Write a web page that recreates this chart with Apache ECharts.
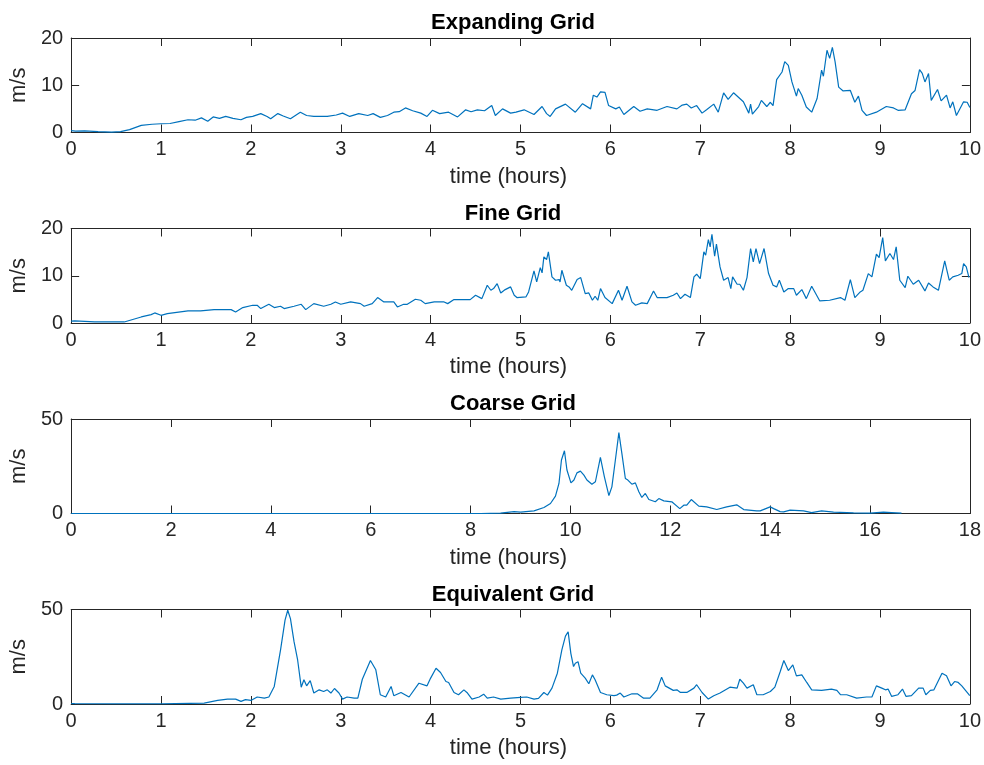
<!DOCTYPE html>
<html>
<head>
<meta charset="utf-8">
<script src="https://cdn.jsdelivr.net/npm/echarts@6/dist/echarts.min.js"></script>
<style>
  html, body { margin: 0; padding: 0; background: #fff; }
  #chart { width: 984px; height: 765px; }
</style>
</head>
<body>
<div id="chart"></div>
<script>
// [hours, m/s]
const expanding = [[0,0.4],[0.05,0.3],[0.15,0.35],[0.3,0.2],[0.45,0.1],[0.55,0.2],[0.65,0.6],[0.78,1.5],[0.9,1.75],[1.0,1.85],
  [1.1,1.9],[1.2,2.3],[1.3,2.7],[1.38,2.6],[1.45,3.1],[1.52,2.4],[1.58,3.3],[1.65,3.0],[1.72,3.4],[1.8,3.0],[1.89,2.7],[1.95,3.2],
  [2.02,3.4],[2.11,4.0],[2.18,3.4],[2.22,2.9],[2.3,4.0],[2.36,3.5],[2.44,2.9],[2.55,4.3],[2.62,3.6],[2.7,3.4],[2.85,3.4],[2.95,3.7],
  [3.02,4.1],[3.1,3.4],[3.2,4.0],[3.3,3.6],[3.36,4.0],[3.44,3.2],[3.52,3.6],[3.59,4.3],[3.65,4.4],[3.72,5.2],[3.8,4.6],[3.89,4.1],
  [3.96,3.4],[4.02,4.7],[4.1,4.0],[4.2,4.3],[4.3,3.3],[4.39,4.8],[4.45,4.4],[4.52,4.8],[4.6,4.6],[4.68,5.7],[4.72,3.6],[4.8,5.0],
  [4.89,4.1],[4.95,4.3],[5.04,4.8],[5.15,3.8],[5.24,5.5],[5.29,4.0],[5.33,3.4],[5.39,5.0],[5.5,6.0],[5.61,4.3],[5.69,6.1],[5.78,5.0],
  [5.81,7.9],[5.85,7.5],[5.89,8.6],[5.94,8.5],[5.98,5.7],[6.06,5.0],[6.1,5.4],[6.15,3.8],[6.26,5.5],[6.33,4.5],[6.41,5.0],[6.52,4.7],
  [6.63,5.5],[6.74,5.0],[6.8,5.8],[6.85,6.0],[6.9,5.2],[6.96,5.7],[7.02,4.1],[7.07,4.8],[7.15,6.0],[7.2,4.3],[7.26,8.4],[7.31,7.0],
  [7.37,8.4],[7.48,6.5],[7.54,4.1],[7.56,6.0],[7.58,3.9],[7.65,5.5],[7.68,6.8],[7.74,5.5],[7.78,6.4],[7.81,5.7],[7.85,11.2],[7.91,12.8],
  [7.94,15.0],[7.98,14.2],[8.02,10.7],[8.07,7.7],[8.09,9.3],[8.13,7.9],[8.18,5.4],[8.24,4.3],[8.3,7.2],[8.35,13.2],[8.37,11.9],[8.41,17.4],
  [8.44,15.7],[8.47,18.0],[8.5,15.0],[8.54,9.6],[8.59,8.8],[8.67,8.9],[8.72,6.4],[8.76,7.7],[8.8,4.7],[8.85,3.6],[8.96,4.3],[9.07,5.5],
  [9.15,5.2],[9.2,4.7],[9.28,4.8],[9.35,8.2],[9.39,8.9],[9.44,13.3],[9.47,12.5],[9.5,10.7],[9.54,12.5],[9.57,6.8],[9.64,9.1],[9.68,6.7],
  [9.74,7.9],[9.78,5.2],[9.81,6.5],[9.85,3.6],[9.93,6.5],[9.97,6.4],[10,5.3]];

const fine = [[0,0.4],[0.04,0.43],[0.26,0.22],[0.59,0.22],[0.78,1.28],[0.89,1.77],[0.93,2.13],[1.0,1.63],[1.07,1.99],[1.3,2.55],
  [1.44,2.55],[1.59,2.83],[1.78,2.83],[1.83,2.34],[1.91,3.26],[2.02,3.75],[2.07,3.75],[2.11,3.05],[2.2,3.96],[2.26,3.26],[2.33,3.54],
  [2.37,3.05],[2.48,3.54],[2.56,3.96],[2.61,2.83],[2.7,4.1],[2.81,3.54],[2.89,3.96],[2.94,4.46],[3.0,3.96],[3.11,4.46],[3.22,4.1],
  [3.26,3.54],[3.35,4.1],[3.41,5.38],[3.48,4.46],[3.59,4.46],[3.63,3.4],[3.7,3.96],[3.74,3.96],[3.83,5.02],[3.89,4.81],[3.94,4.1],
  [4.04,4.46],[4.15,4.46],[4.19,4.1],[4.26,4.95],[4.44,4.95],[4.5,5.87],[4.57,5.16],[4.63,7.99],[4.67,6.93],[4.7,7.28],[4.74,8.34],
  [4.78,6.36],[4.83,7.07],[4.89,7.64],[4.93,5.87],[4.96,5.38],[5.06,5.52],[5.09,6.58],[5.15,11.03],[5.18,8.69],[5.22,11.73],[5.24,10.6],
  [5.26,13.99],[5.29,13.43],[5.31,15.05],[5.35,9.75],[5.39,9.05],[5.43,9.19],[5.44,8.69],[5.46,11.17],[5.51,7.99],[5.54,7.64],[5.57,6.93],
  [5.63,9.19],[5.67,9.61],[5.72,6.22],[5.76,6.36],[5.8,4.81],[5.83,5.66],[5.86,4.81],[5.89,7.28],[5.94,5.38],[6.02,4.1],[6.09,6.93],
  [6.13,4.81],[6.185,7.78],[6.24,4.46],[6.28,3.75],[6.35,4.25],[6.41,4.1],[6.48,6.79],[6.52,5.38],[6.63,5.38],[6.7,5.87],[6.74,6.36],
  [6.78,5.16],[6.83,6.08],[6.89,5.38],[6.93,9.75],[6.96,10.32],[7.0,9.4],[7.04,15.05],[7.06,14.34],[7.09,17.66],[7.11,16.11],[7.13,18.79],
  [7.16,14.13],[7.18,16.68],[7.22,11.87],[7.26,9.05],[7.31,9.61],[7.34,7.28],[7.36,9.75],[7.41,8.2],[7.44,8.2],[7.48,6.93],[7.52,9.61],
  [7.56,15.76],[7.59,12.93],[7.62,15.76],[7.66,12.58],[7.71,15.76],[7.76,10.46],[7.81,7.99],[7.85,7.64],[7.88,9.05],[7.93,6.58],[7.98,7.28],
  [8.04,7.28],[8.07,5.87],[8.13,7.07],[8.18,5.16],[8.24,7.78],[8.33,4.67],[8.44,4.81],[8.56,5.38],[8.61,4.81],[8.67,9.19],[8.72,5.38],
  [8.78,6.58],[8.81,6.93],[8.87,10.46],[8.91,9.75],[8.96,14.56],[8.99,13.85],[9.03,18.09],[9.06,13.14],[9.11,14.7],[9.15,13.43],[9.18,16.11],
  [9.22,9.05],[9.28,7.5],[9.31,9.9],[9.37,8.2],[9.43,9.05],[9.5,6.79],[9.54,8.48],[9.59,7.64],[9.65,6.93],[9.72,13.14],[9.77,9.05],
  [9.81,9.75],[9.87,10.11],[9.91,10.46],[9.93,12.58],[9.96,11.87],[9.99,9.61]];

const coarse = [[0,0],[2,0],[4,0],[6,0],[8,0],[8.2,0],[8.6,0.2],[8.87,1.0],[9.0,0.7],[9.27,1.4],[9.47,3.2],[9.6,5.3],[9.7,9.2],
  [9.77,15.9],[9.82,28.3],[9.88,33.2],[9.93,23.0],[10.01,16.2],[10.07,17.7],[10.13,21.5],[10.2,22.4],[10.27,20.3],[10.33,17.7],
  [10.43,15.5],[10.5,16.8],[10.6,29.7],[10.68,19.4],[10.77,9.5],[10.83,14.1],[10.9,28.3],[10.97,42.8],[11.03,31.8],[11.1,18.5],
  [11.15,17.7],[11.19,18.5],[11.23,15.5],[11.3,16.2],[11.37,11.5],[11.43,8.5],[11.5,10.6],[11.57,7.4],[11.7,6.2],[11.77,7.9],
  [11.87,6.7],[12.03,6.2],[12.19,2.6],[12.27,4.4],[12.33,4.4],[12.42,7.4],[12.57,3.9],[12.73,3.5],[12.93,2.1],[13.13,3.5],[13.33,4.6],
  [13.47,2.1],[13.73,1.4],[13.8,1.4],[14.0,3.5],[14.07,2.6],[14.2,1.0],[14.27,0.9],[14.4,1.8],[14.67,1.4],[14.83,0.5],[15.03,1.4],
  [15.27,0.7],[15.67,0.35],[16.0,0.2],[16.27,0.7],[16.43,0.5],[16.63,0.2]];

const equivalent = [[0,0.2],[0.04,0.15],[0.5,0.1],[1.0,0.1],[1.48,0.5],[1.63,1.9],[1.74,2.6],[1.83,2.6],[1.89,1.4],[1.94,2.3],
  [2.0,1.9],[2.07,3.7],[2.15,3.1],[2.2,3.7],[2.26,9.3],[2.33,28.6],[2.38,44.4],[2.41,49.6],[2.44,45.2],[2.48,33.0],[2.52,23.3],
  [2.54,22.4],[2.56,8.9],[2.59,12.8],[2.62,9.6],[2.66,12.4],[2.7,5.8],[2.76,7.5],[2.81,6.6],[2.85,7.5],[2.89,5.8],[2.93,8.2],[2.98,5.8],
  [3.02,2.6],[3.07,3.7],[3.15,3.1],[3.19,3.1],[3.24,13.1],[3.33,23.0],[3.39,18.1],[3.44,4.9],[3.5,3.7],[3.56,9.3],[3.59,4.4],[3.67,6.1],
  [3.76,3.7],[3.87,11.0],[3.96,9.6],[4.0,13.7],[4.06,18.9],[4.11,16.7],[4.17,11.9],[4.2,11.4],[4.26,6.1],[4.31,4.9],[4.37,7.5],[4.41,5.8],
  [4.46,2.6],[4.54,3.7],[4.59,5.2],[4.63,3.1],[4.7,3.7],[4.78,2.6],[4.89,3.1],[5.0,3.5],[5.07,3.7],[5.15,2.6],[5.2,3.0],[5.26,6.1],
  [5.3,4.7],[5.35,8.4],[5.41,16.3],[5.46,28.6],[5.5,35.9],[5.53,38.2],[5.56,26.8],[5.59,19.8],[5.61,21.6],[5.64,22.4],[5.67,16.3],
  [5.72,13.7],[5.76,10.7],[5.8,15.4],[5.83,12.8],[5.89,6.1],[5.96,4.9],[6.04,4.4],[6.07,4.7],[6.11,5.8],[6.15,3.7],[6.24,5.4],[6.3,5.4],
  [6.37,3.1],[6.44,3.1],[6.52,7.5],[6.57,14.2],[6.61,9.6],[6.7,7.2],[6.74,7.5],[6.78,6.1],[6.85,6.1],[6.93,8.4],[6.96,10.2],[7.02,6.1],
  [7.09,2.6],[7.15,4.4],[7.22,5.8],[7.33,8.9],[7.41,8.4],[7.44,13.1],[7.48,11.0],[7.52,8.4],[7.59,10.2],[7.63,4.9],[7.7,4.9],[7.78,6.6],
  [7.83,8.9],[7.89,17.2],[7.93,23.0],[7.98,17.7],[8.03,20.7],[8.07,14.9],[8.13,15.4],[8.185,11.4],[8.24,7.5],[8.35,7.2],[8.46,7.9],
  [8.52,7.2],[8.56,4.9],[8.63,4.9],[8.74,3.1],[8.85,3.7],[8.91,3.7],[8.96,9.6],[9.02,8.4],[9.06,7.5],[9.09,7.9],[9.13,4.0],[9.2,4.9],
  [9.25,7.9],[9.29,4.0],[9.35,4.4],[9.43,8.4],[9.48,8.4],[9.51,4.9],[9.56,7.2],[9.6,7.5],[9.69,16.3],[9.74,14.9],[9.79,9.6],[9.83,11.9],
  [9.87,11.4],[9.91,9.6],[9.93,10.2],[9.99,4.9],[10,4.5]];

const titles = ['Expanding Grid', 'Fine Grid', 'Coarse Grid', 'Equivalent Grid'];
const seriesData = [expanding, fine, coarse, equivalent];
const xMax = [10, 10, 18, 10];
const xStep = [1, 1, 2, 1];
const yMax = [20, 20, 50, 50];
const yStep = [10, 10, 50, 50];

const font = "'Liberation Sans', Arial, Helvetica, sans-serif";
const axisColor = '#262626';
const tops = [38, 228.5, 419, 609.5];

const chart = echarts.init(document.getElementById('chart'), null, { renderer: 'canvas' });

const grid = [], xAxis = [], yAxis = [], title = [], series = [];
for (let i = 0; i < 4; i++) {
  grid.push({ left: 70, width: 900, top: tops[i], height: 94.5 });
  title.push({
    text: titles[i], left: 508, textAlign: 'center', top: tops[i] - 31,
    textStyle: { fontSize: 22, fontWeight: 'bold', color: '#000', fontFamily: font }
  });
  const tick = { show: true, inside: true, length: 8, lineStyle: { color: axisColor, width: 1 } };
  const line = { show: true, onZero: false, lineStyle: { color: axisColor, width: 1 } };
  // bottom + left carry labels, top + right are the box with mirrored ticks
  xAxis.push({
    gridIndex: i, type: 'value', position: 'bottom', min: 0, max: xMax[i], interval: xStep[i],
    axisLine: line, axisTick: tick, splitLine: { show: false },
    axisLabel: { color: axisColor, fontSize: 20, margin: 7, fontFamily: font },
    name: 'time (hours)', nameLocation: 'middle', nameGap: 33,
    nameTextStyle: { color: axisColor, fontSize: 22, fontFamily: font, padding: [0, 24, 0, 0] }
  });
  xAxis.push({
    gridIndex: i, type: 'value', position: 'top', min: 0, max: xMax[i], interval: xStep[i],
    axisLine: line, axisTick: tick, splitLine: { show: false }, axisLabel: { show: false }
  });
  yAxis.push({
    gridIndex: i, type: 'value', position: 'left', min: 0, max: yMax[i], interval: yStep[i],
    axisLine: line, axisTick: tick, splitLine: { show: false },
    axisLabel: { color: axisColor, fontSize: 20, margin: 8, fontFamily: font },
    name: 'm/s', nameLocation: 'middle', nameGap: 30, nameRotate: 90,
    nameTextStyle: { color: axisColor, fontSize: 22, fontFamily: font }
  });
  yAxis.push({
    gridIndex: i, type: 'value', position: 'right', min: 0, max: yMax[i], interval: yStep[i],
    axisLine: line, axisTick: tick, splitLine: { show: false }, axisLabel: { show: false }
  });
  series.push({
    type: 'line', xAxisIndex: 2 * i, yAxisIndex: 2 * i, data: seriesData[i],
    showSymbol: false, symbol: 'none', clip: true,
    lineStyle: { color: '#0072BD', width: 1.2 }
  });
}

chart.setOption({
  animation: false,
  backgroundColor: '#fff',
  textStyle: { fontFamily: font },
  title: title,
  grid: grid,
  xAxis: xAxis,
  yAxis: yAxis,
  series: series
});
</script>
</body>
</html>
